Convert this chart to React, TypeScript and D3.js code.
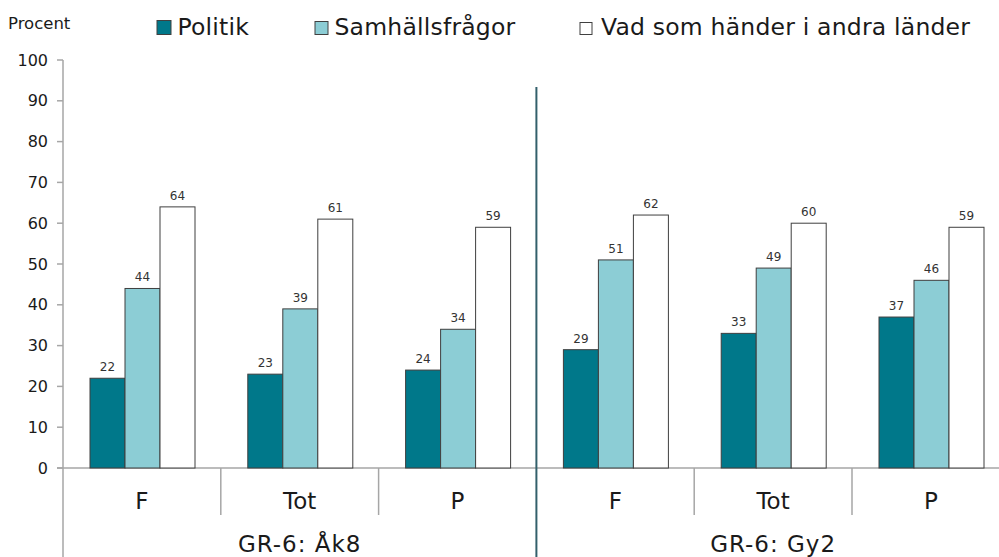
import React from "react";
import * as d3 from "d3";

const WIDTH = 999;
const HEIGHT = 557;

const groups = ["GR-6: Åk8", "GR-6: Gy2"];
const categories = ["F", "Tot", "P"];
const seriesNames = ["Politik", "Samhällsfrågor", "Vad som händer i andra länder"];
const colors = ["#00788a", "#8ccdd5", "#ffffff"];

// values per group, per category: [Politik, Samhällsfrågor, Vad som händer]
const akt8Values = [
  [22, 44, 64],
  [23, 39, 61],
  [24, 34, 59],
];
const gy2Values = [
  [29, 51, 62],
  [33, 49, 60],
  [37, 46, 59],
];
const yTicks = [0, 10, 20, 30, 40, 50, 60, 70, 80, 90, 100];

const FONT = "'DejaVu Sans', Verdana, sans-serif";
const AXIS = "#a6a6a6";
const TEXT = "#1a1a1a";

export default function App() {
  const left = 63;
  const top = 60;
  const bottom = 468;
  const step = 157.8;

  const slots = groups.flatMap((g, gi) =>
    categories.map((c, ci) => ({
      key: `${gi}-${ci}`,
      group: g,
      cat: c,
      values: gi === 0 ? akt8Values[ci] : gy2Values[ci],
    }))
  );

  const x = d3
    .scaleBand<string>()
    .domain(slots.map((s) => s.key))
    .range([left, left + step * slots.length])
    .padding(0);

  const inner = d3
    .scaleBand<string>()
    .domain(seriesNames)
    .range([27, step - 25.8])
    .padding(0);

  const y = d3.scaleLinear().domain([0, 100]).range([bottom, top]);

  const groupX = (gi: number) => left + gi * step * categories.length;

  const legendItems = [
    { x: 157, size: 14, gap: 6.5 },
    { x: 315, size: 13, gap: 6.5 },
    { x: 580, size: 12, gap: 9 },
  ];

  return (
    <svg
      width={WIDTH}
      height={HEIGHT}
      style={{ position: "absolute", left: 0, top: 0, background: "#fff" }}
      fontFamily={FONT}
    >
      <text x={8} y={29} fontSize={16.5} fill={TEXT}>
        Procent
      </text>

      {seriesNames.map((name, i) => (
        <g key={name}>
          <rect
            x={legendItems[i].x}
            y={34.5 - legendItems[i].size}
            width={legendItems[i].size}
            height={legendItems[i].size}
            fill={colors[i]}
            stroke="#404040"
            strokeWidth={1}
          />
          <text
            x={legendItems[i].x + legendItems[i].size + legendItems[i].gap}
            y={35}
            fontSize={23.5}
            letterSpacing={0.2}
            fill={TEXT}
          >
            {name}
          </text>
        </g>
      ))}

      {/* y axis */}
      <line x1={left} x2={left} y1={top} y2={HEIGHT} stroke={AXIS} strokeWidth={1.5} />
      {yTicks.map((t) => (
        <g key={t}>
          <line x1={left - 6} x2={left} y1={y(t)} y2={y(t)} stroke={AXIS} strokeWidth={1.5} />
          <text
            x={48}
            y={y(t)}
            textAnchor="end"
            dominantBaseline="central"
            fontSize={16}
            fill={TEXT}
          >
            {t}
          </text>
        </g>
      ))}

      {/* x axis */}
      <line x1={left - 6} x2={WIDTH} y1={bottom} y2={bottom} stroke={AXIS} strokeWidth={1.5} />
      {slots.map((s, i) =>
        i % categories.length === 0 ? null : (
          <line
            key={s.key}
            x1={x(s.key)}
            x2={x(s.key)}
            y1={bottom}
            y2={515}
            stroke={AXIS}
            strokeWidth={1.5}
          />
        )
      )}

      {/* bars */}
      {slots.map((s) => (
        <g key={s.key} transform={`translate(${x(s.key)},0)`}>
          {s.values.map((v, i) => (
            <g key={i}>
              <rect
                x={inner(seriesNames[i])}
                y={y(v)}
                width={inner.bandwidth()}
                height={bottom - y(v)}
                fill={colors[i]}
                stroke="#3f3f3f"
                strokeWidth={1}
              />
              <text
                x={(inner(seriesNames[i]) ?? 0) + inner.bandwidth() / 2}
                y={y(v) - 7}
                textAnchor="middle"
                fontSize={12}
                fill="#333"
              >
                {v}
              </text>
            </g>
          ))}
          <text
            x={x.bandwidth() / 2}
            y={509}
            textAnchor="middle"
            fontSize={23}
            fill={TEXT}
          >
            {s.cat}
          </text>
        </g>
      ))}

      {/* group labels */}
      {groups.map((g, gi) => (
        <text
          key={g}
          x={groupX(gi) + (step * categories.length) / 2}
          y={552}
          textAnchor="middle"
          fontSize={23}
          letterSpacing={1}
          fill={TEXT}
        >
          {g}
        </text>
      ))}

      {/* group divider */}
      <line
        x1={groupX(1)}
        x2={groupX(1)}
        y1={87}
        y2={HEIGHT}
        stroke="#33606b"
        strokeWidth={2}
      />
    </svg>
  );
}
